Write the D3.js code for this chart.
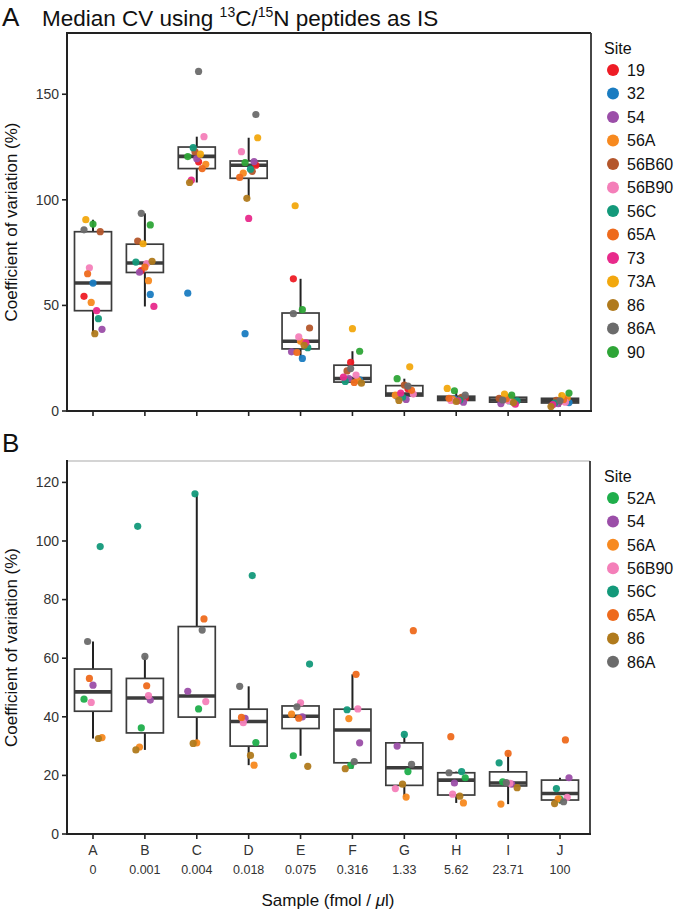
<!DOCTYPE html>
<html><head><meta charset="utf-8">
<script src="https://cdn.jsdelivr.net/npm/d3@7"></script>
<style>body{margin:0;background:#fff;}svg{display:block;font-family:"Liberation Sans",Arial,sans-serif;}</style>
</head><body><svg id="c" width="676" height="913"></svg>
<script>
const samples = ["A","B","C","D","E","F","G","H","I","J"];
const concentrations = ["0","0.001","0.004","0.018","0.075","0.316","1.33","5.62","23.71","100"];

const sitesA = ["19","32","54","56A","56B60","56B90","56C","65A","73","73A","86","86A","90"];
const colorsA = ["#EE1C25","#1A7CC1","#9B4EA8","#F7891F","#B4562B","#F47FB9","#13997A","#EE6A1C","#E82A8B","#F2A80E","#B07A1C","#6B6B6B","#2EA537"];
// CV (%) per site across samples A..J (panel A)
const cvA = [
  [54.3,66.5,118.0,116.4,62.6,23.0,10.5,6.2,5.5,4.5],
  [60.6,55.2,55.8,36.6,24.9,14.8,7.0,5.6,4.5,4.0],
  [38.7,65.7,119.5,118.1,28.0,15.4,5.5,4.2,3.5,3.5],
  [51.4,61.7,116.8,112.6,33.0,14.5,7.5,5.5,6.5,6.2],
  [84.9,80.5,122.8,113.5,39.3,19.0,12.3,6.5,6.0,5.0],
  [67.8,69.8,129.9,122.8,35.1,17.0,8.0,5.0,5.0,4.2],
  [43.7,70.5,124.7,114.5,30.0,14.0,6.5,5.2,4.8,3.8],
  [65.0,68.1,114.8,110.6,27.7,13.5,9.8,6.0,5.8,5.5],
  [47.5,49.5,109.3,91.2,32.3,16.0,8.5,4.8,3.2,3.0],
  [90.6,79.2,121.6,129.4,97.2,39.0,20.9,10.7,8.0,7.3],
  [36.6,70.9,108.2,100.7,31.1,13.2,5.0,4.5,4.0,2.1],
  [85.8,93.6,160.8,140.4,46.1,20.1,11.8,7.5,5.2,4.8],
  [88.5,88.1,120.5,117.6,48.0,28.3,15.3,9.6,7.5,8.5]
];
// box statistics (panel A): lower whisker, Q1, median, Q3, upper whisker
const boxLoA  = [36.6,49.5,108.2,100.7,24.9,13.2,5.0,4.2,3.2,2.1];
const boxQ1A  = [47.5,65.6,114.8,110.2,29.4,13.7,7.1,5.0,4.2,3.8];
const boxMedA = [60.6,70.1,120.6,116.4,33.0,15.4,8.0,5.8,5.2,4.8];
const boxQ3A  = [84.9,79.0,125.0,118.4,46.4,21.7,12.0,7.0,6.5,6.0];
const boxHiA  = [90.6,93.6,129.9,129.4,62.6,28.3,15.3,9.6,8.0,8.5];
const ticksA = [0,50,100,150];

const sitesB = ["52A","54","56A","56B90","56C","65A","86","86A"];
const colorsB = ["#1FAE4B","#9B4EA8","#F7891F","#F47FB9","#13997A","#EE6A1C","#B07A1C","#6B6B6B"];
const cvB = [
  [46.0,36.2,42.7,31.2,26.7,23.4,21.3,19.2,17.8,11.9],
  [50.8,45.7,48.7,39.5,40.0,31.1,30.0,17.4,17.0,19.2],
  [32.9,29.7,31.1,23.5,40.9,39.4,12.6,10.6,10.2,12.0],
  [44.9,47.2,45.2,38.0,44.8,42.7,15.5,13.6,17.3,12.5],
  [98.1,105.0,116.1,88.2,58.0,42.4,34.0,21.3,24.3,15.5],
  [53.1,50.6,73.4,39.8,39.5,54.5,69.4,33.2,27.5,32.1],
  [32.6,28.7,30.9,26.8,23.1,22.3,17.0,12.9,15.8,10.4],
  [65.7,60.6,69.6,50.4,43.4,24.7,23.8,20.9,17.5,11.0]
];
const boxLoB  = [32.6,28.7,30.9,23.5,26.7,22.3,12.6,10.6,10.2,10.4];
const boxQ1B  = [41.9,34.5,39.9,30.0,36.0,24.3,16.6,13.3,16.4,11.6];
const boxMedB = [48.5,46.4,47.1,38.4,40.2,35.5,22.6,18.4,17.4,13.8];
const boxQ3B  = [56.3,53.1,70.8,42.6,43.7,42.6,31.1,20.9,21.2,18.4];
const boxHiB  = [65.7,60.6,116.1,50.4,44.8,54.5,34.0,21.3,27.5,19.2];
const ticksB = [0,20,40,60,80,100,120];

const svg = d3.select("#c");
const x = d3.scalePoint().domain(samples).range([93,560]);
const boxW = 37;
const dark = "#3c3c3c";

function panel(cfg){
  const {top,bottom,left,right,ymax,ticks,sites,colors,cv,lo,q1,med,q3,hi,topStroke,showX} = cfg;
  const y = d3.scaleLinear().domain([0,ymax]).range([bottom,top]);
  const g = svg.append("g");
  samples.forEach((s,i)=>{
    const cx = x(s);
    g.append("line").attr("x1",cx).attr("x2",cx).attr("y1",y(q3[i])).attr("y2",y(hi[i])).attr("stroke","#222").attr("stroke-width",2);
    g.append("line").attr("x1",cx).attr("x2",cx).attr("y1",y(q1[i])).attr("y2",y(lo[i])).attr("stroke","#222").attr("stroke-width",2);
    g.append("rect").attr("x",cx-boxW/2).attr("y",y(q3[i])).attr("width",boxW).attr("height",Math.max(0.5,y(q1[i])-y(q3[i])))
      .attr("fill","none").attr("stroke",dark).attr("stroke-width",1.7);
    g.append("line").attr("x1",cx-boxW/2).attr("x2",cx+boxW/2).attr("y1",y(med[i])).attr("y2",y(med[i])).attr("stroke",dark).attr("stroke-width",3.6);
  });
  sites.forEach((site,k)=>{
    cv[k].forEach((v,i)=>{
      const j = (((k*5 + i*3) % 11) - 5) * 1.8;
      g.append("circle").attr("cx",x(samples[i])+j).attr("cy",y(v)).attr("r",3.6)
        .attr("fill",colors[k]).attr("fill-opacity",0.95);
    });
  });
  g.append("line").attr("x1",left).attr("x2",right).attr("y1",top).attr("y2",top).attr("stroke",topStroke).attr("stroke-width",topStroke==="#222"?2:1.2);
  g.append("line").attr("x1",right).attr("x2",right).attr("y1",top).attr("y2",bottom).attr("stroke","#333").attr("stroke-width",1.8);
  g.append("line").attr("x1",left).attr("x2",left).attr("y1",top-1).attr("y2",bottom+1).attr("stroke","#222").attr("stroke-width",2);
  g.append("line").attr("x1",left-1).attr("x2",right+1).attr("y1",bottom).attr("y2",bottom).attr("stroke","#222").attr("stroke-width",2);
  ticks.forEach(t=>{
    g.append("line").attr("x1",left-5).attr("x2",left).attr("y1",y(t)).attr("y2",y(t)).attr("stroke","#222").attr("stroke-width",1.6);
    g.append("text").attr("x",left-8).attr("y",y(t)).attr("dy","0.35em").attr("text-anchor","end")
      .attr("font-size",14).attr("fill","#333").text(t);
  });
  samples.forEach((s,i)=>{
    g.append("line").attr("x1",x(s)).attr("x2",x(s)).attr("y1",bottom).attr("y2",bottom+5).attr("stroke","#222").attr("stroke-width",1.6);
    if(showX){
      g.append("text").attr("x",x(s)).attr("y",bottom+21).attr("text-anchor","middle").attr("font-size",14).attr("fill","#333").text(s);
      g.append("text").attr("x",x(s)).attr("y",bottom+40).attr("text-anchor","middle").attr("font-size",12.5).attr("fill","#333").text(concentrations[i]);
    }
  });
  g.append("text").attr("transform",`translate(17,${(top+bottom)/2}) rotate(-90)`).attr("text-anchor","middle")
    .attr("font-size",17).attr("fill","#111").text("Coefficient of variation (%)");
  const lx = 604, ly = cfg.legendTop;
  g.append("text").attr("x",lx).attr("y",ly).attr("dy","0.35em").attr("font-size",16).attr("fill","#111").text("Site");
  sites.forEach((site,k)=>{
    const yy = ly + 22 + k*cfg.legendStep;
    g.append("circle").attr("cx",613).attr("cy",yy).attr("r",6).attr("fill",colors[k]);
    g.append("text").attr("x",627).attr("y",yy).attr("dy","0.36em").attr("font-size",16).attr("fill","#111").text(site);
  });
}

panel({top:33,bottom:411,left:67,right:591,ymax:179,ticks:ticksA,sites:sitesA,colors:colorsA,cv:cvA,
  lo:boxLoA,q1:boxQ1A,med:boxMedA,q3:boxQ3A,hi:boxHiA,topStroke:"#222",showX:false,legendTop:48,legendStep:23.5});
panel({top:461,bottom:834,left:67,right:590,ymax:127.3,ticks:ticksB,sites:sitesB,colors:colorsB,cv:cvB,
  lo:boxLoB,q1:boxQ1B,med:boxMedB,q3:boxQ3B,hi:boxHiB,topStroke:"#aaa",showX:true,legendTop:476,legendStep:23.4});

svg.append("text").attr("x",2).attr("y",26).attr("font-size",26).attr("fill","#111").text("A");
svg.append("text").attr("x",2).attr("y",452).attr("font-size",26).attr("fill","#111").text("B");
const t = svg.append("text").attr("x",42).attr("y",26).attr("font-size",22.5).attr("fill","#111");
t.append("tspan").text("Median CV using ");
t.append("tspan").attr("font-size",14).attr("dy",-9).text("13");
t.append("tspan").attr("dy",9).text("C/");
t.append("tspan").attr("font-size",14).attr("dy",-9).text("15");
t.append("tspan").attr("dy",9).text("N peptides as IS");
const xt = svg.append("text").attr("x",328).attr("y",906).attr("text-anchor","middle").attr("font-size",17).attr("fill","#111");
xt.append("tspan").text("Sample (fmol / ");
xt.append("tspan").attr("font-style","italic").text("μ");
xt.append("tspan").text("l)");
</script></body></html>
